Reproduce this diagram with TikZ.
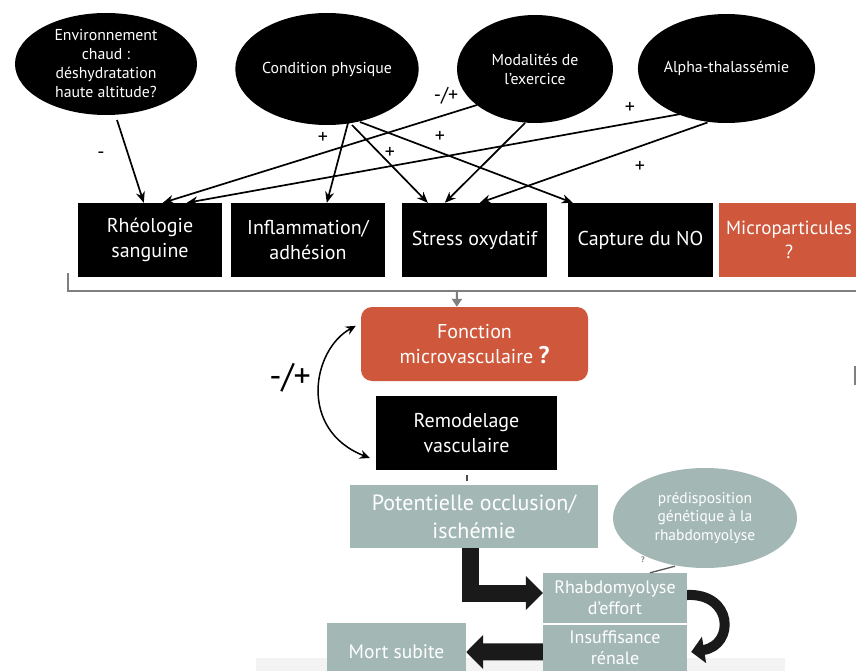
\documentclass[tikz,border=0pt]{standalone}
\usepackage{fontspec}
\setmainfont{PT Sans}
\usetikzlibrary{shapes.geometric,arrows.meta,calc}
\definecolor{orng}{HTML}{CF573B}
\definecolor{tealg}{HTML}{A3B8B5}
\definecolor{brk}{HTML}{7F7F7F}
\definecolor{band}{HTML}{F3F3F3}
\definecolor{thk}{HTML}{1A1A1A}
\begin{document}
\begin{tikzpicture}[x=1pt,y=-1pt,
  ell/.style={ellipse, fill=black, text=white, inner sep=0pt, align=center, font=\fontsize{15.8}{19}\selectfont},
  blk/.style={rectangle, fill=black, text=white, inner sep=0pt, align=center, font=\fontsize{20}{24.5}\selectfont},
  org/.style={rectangle, fill=orng, text=white, inner sep=0pt, align=center, font=\fontsize{20}{24.5}\selectfont},
  tgl/.style={rectangle, fill=tealg, text=white, inner sep=0pt, align=center, font=\fontsize{18}{21}\selectfont},
  conn/.style={line width=1.7pt, -{Stealth[length=11pt,width=9pt]}},
  sgn/.style={inner sep=0pt, font=\fontsize{20}{20}\selectfont},
  fat/.style={thk, line width=17pt, line join=miter, -{Triangle[length=17pt,width=33pt]}},
]
\useasboundingbox (0,0) rectangle (856,671);
\fill[white] (0,0) rectangle (856,671);
\fill[band] (256,658) rectangle (785,671);

% ellipses
\node[ell, minimum width=182pt, minimum height=102pt] (e1) at (106,64) {Environnement\\chaud :\\déshydratation\\haute altitude?};
\node[ell, minimum width=178pt, minimum height=112pt] (e2) at (327,69) {Condition physique};
\node[ell, minimum width=156pt, minimum height=108pt] (e3) at (535,69) {Modalités de\\l’exercice};
\node[ell, minimum width=145pt, minimum height=109pt] (e4) at (726.5,68.5) {Alpha-thalassémie};

% boxes
\node[blk, minimum width=144pt, minimum height=74pt] (rheo) at (150,240) {Rhéologie\\sanguine};
\node[blk, minimum width=154pt, minimum height=74pt] (infl) at (308,240) {Inflammation/\\adhésion};
\node[blk, minimum width=145pt, minimum height=74pt] (stress) at (474.5,240) {Stress oxydatif};
\node[blk, minimum width=145pt, minimum height=74pt] (capt) at (640.5,240) {Capture du NO};
\node[org, minimum width=140pt, minimum height=74pt, font=\fontsize{19}{24.5}\selectfont] (micro) at (789,240) {Microparticules\\?};

% arrows
\draw[conn] ($(e1.center)+(11,56)$) -- ($(rheo.north west)+(66,0)$);
\draw[conn] ($(e3.center)+(-58,36)$) -- ($(rheo.north west)+(85,0)$);
\draw[conn] ($(e4.center)+(-43,45)$) -- ($(rheo.north west)+(109,0)$);
\draw[conn] ($(e2.center)+(21,54)$) -- ($(infl.north west)+(96,0)$);
\draw[conn] ($(e2.center)+(25,56)$) -- ($(stress.north west)+(26,0)$);
\draw[conn] ($(e2.center)+(33,53)$) -- ($(capt.north west)+(5,0)$);
\draw[conn] ($(e3.center)+(-10,54)$) -- ($(stress.north west)+(43,0)$);
\draw[conn] ($(e4.center)+(-19,54)$) -- ($(stress.north west)+(78,0)$);

% signs
\node[sgn] (s1) at (101,155) {-};
\node[sgn] (s2) at (446,96) {-/+};
\node[sgn] (s3) at (630,108) {+};
\node[sgn] (s4) at (323,138) {+};
\node[sgn] (s5) at (390,153) {+};
\node[sgn] (s6) at (440,137) {+};
\node[sgn] (s7) at (640,167) {+};

% bracket
\coordinate (bl) at (68,273);
\coordinate (br) at (856,291);
\coordinate (bm) at (457,291);
\draw[brk, line width=2pt] (bl) |- (br);

% middle
\node[org, rounded corners=11pt, minimum width=227pt, minimum height=74pt] (fonc) at (474.5,344) {Fonction\\microvasculaire {\fontsize{24}{24}\selectfont\bfseries ?}};
\draw[brk, line width=2pt, -{Triangle[length=8pt,width=10pt]}] (bm) -- ($(fonc.north west)+(96,0)$);
\node[blk, minimum width=181pt, minimum height=74pt] (remo) at (466.5,433) {Remodelage\\vasculaire};
\draw[line width=1.5pt, {Stealth[length=10pt,width=9pt]}-{Stealth[length=10pt,width=9pt]}]
  ($(fonc.north west)+(-5,19)$) .. controls (312,350) and (298,430) .. ($(remo.west)+(-6,25)$);
\node[inner sep=0pt, font=\fontsize{34}{34}\selectfont] (pm) at (290,378) {-/+};
\draw[brk!60!black, line width=2pt] ($(remo.south)+(0,5)$) -- ($(remo.south)+(0,11)$);
\draw[brk, line width=1.5pt] (855,366) -- (855,385);

% bottom
\node[tgl, font=\fontsize{22}{28}\selectfont, minimum width=248pt, minimum height=63pt] (pot) at (474,516.5) {Potentielle occlusion/\\ischémie};
\node[ellipse, fill=tealg, text=white, inner sep=0pt, align=center, minimum width=184pt, minimum height=100pt, font=\fontsize{15.5}{18.5}\selectfont] (pred) at (705,518) {prédisposition\\génétique à la\\rhabdomyolyse};
\node[tgl, minimum width=144pt, minimum height=50pt] (rhab) at (615,598) {Rhabdomyolyse\\d’effort};
\node[tgl, minimum width=144pt, minimum height=46.5pt, anchor=north] (insuf) at (615,624.5) {Insuffisance\\rénale};
\node[tgl, minimum width=139pt, minimum height=57pt, font=\fontsize{19.5}{21}\selectfont] (mort) at (396.5,651.5) {Mort subite};
\draw[brk!70!black, line width=1.3pt] ($(rhab.north)+(35,0)$) -- ($(pred.south)+(-30,-2)$);
\node[inner sep=0pt, text=brk, font=\fontsize{8}{8}\selectfont\bfseries] (q) at (643,560) {?};

\draw[fat] ($(pot.south west)+(121,0)$) |- ($(rhab.west)+(0,-5)$);
\draw[fat] ($(insuf.west)+(0,4)$) -- ($(mort.east)+(0,0.5)$);
\draw[thk, line width=10pt, -{Triangle[length=13pt,width=26pt]}]
  ($(rhab.east)+(0,-3)$) .. controls (733,593) and (735,645) .. ($(insuf.east)+(4,4)$);
\end{tikzpicture}
\end{document}
